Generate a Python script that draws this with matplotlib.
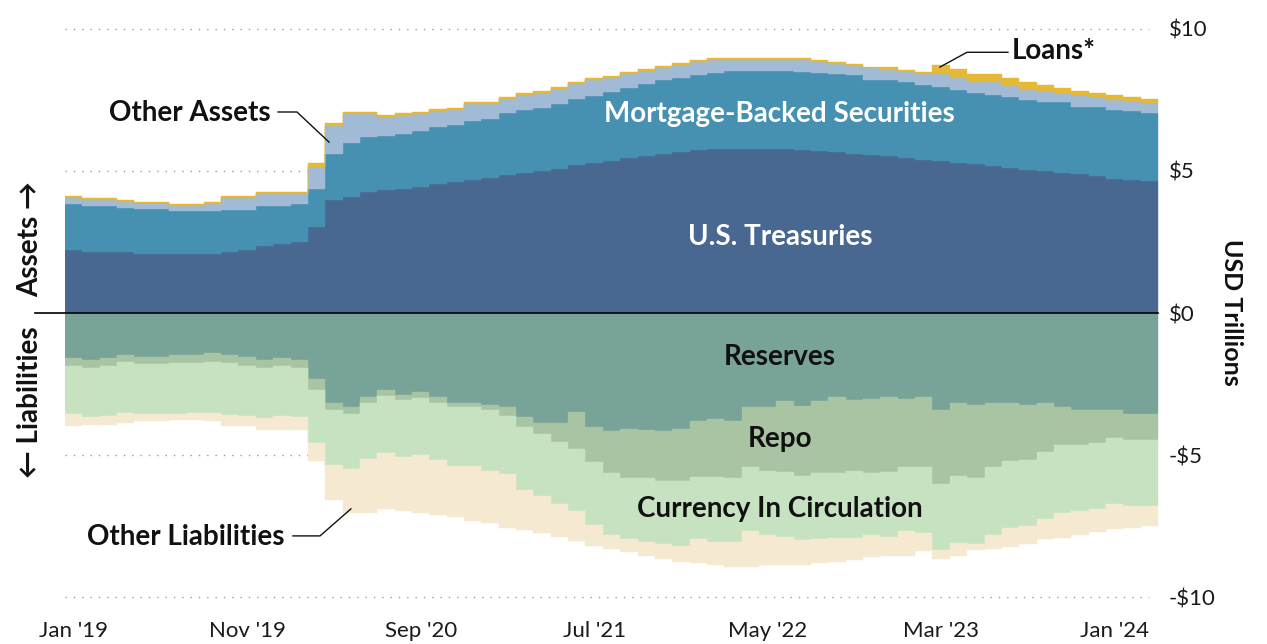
import numpy as np
import matplotlib
matplotlib.use("Agg")
import matplotlib.pyplot as plt

plt.rcParams['font.family'] = ['Lato', 'DejaVu Sans']

# monthly values, Jan 2019 .. Mar 2024, USD trillions
tick_pos = [0, 10, 20, 30, 40, 50, 60]
tick_labels = ["Jan '19", "Nov '19", "Sep '20", "Jul '21", "May '22", "Mar '23", "Jan '24"]

treasuries = [2.23, 2.16, 2.16, 2.16, 2.09, 2.09, 2.09, 2.09, 2.09, 2.16,
              2.23, 2.35, 2.42, 2.49, 3.01, 3.99, 4.09, 4.24, 4.32, 4.37,
              4.43, 4.53, 4.61, 4.67, 4.76, 4.87, 4.92, 4.99, 5.08, 5.20,
              5.27, 5.34, 5.45, 5.52, 5.60, 5.66, 5.72, 5.78, 5.78, 5.78,
              5.78, 5.78, 5.74, 5.70, 5.66, 5.60, 5.54, 5.52, 5.46, 5.39,
              5.34, 5.29, 5.23, 5.17, 5.10, 5.04, 4.98, 4.94, 4.88, 4.82,
              4.73, 4.69, 4.63]
mbs = [1.59, 1.62, 1.62, 1.55, 1.57, 1.57, 1.50, 1.50, 1.50, 1.48,
       1.41, 1.40, 1.33, 1.33, 1.35, 1.61, 1.89, 1.95, 1.91, 1.93,
       1.97, 2.01, 2.01, 2.07, 2.05, 2.16, 2.23, 2.23, 2.28, 2.33,
       2.38, 2.45, 2.47, 2.54, 2.58, 2.61, 2.65, 2.66, 2.72, 2.72,
       2.72, 2.72, 2.73, 2.74, 2.75, 2.76, 2.66, 2.68, 2.66, 2.63,
       2.60, 2.57, 2.51, 2.50, 2.49, 2.46, 2.44, 2.48, 2.38, 2.42,
       2.42, 2.40, 2.40]
other_assets = [0.24, 0.21, 0.21, 0.21, 0.20, 0.20, 0.19, 0.19, 0.26, 0.42,
                0.42, 0.43, 0.43, 0.36, 0.77, 0.97, 1.03, 0.82, 0.66, 0.62,
                0.61, 0.55, 0.53, 0.61, 0.54, 0.51, 0.53, 0.51, 0.51, 0.53,
                0.54, 0.48, 0.47, 0.45, 0.45, 0.44, 0.46, 0.47, 0.41, 0.41,
                0.41, 0.41, 0.44, 0.40, 0.36, 0.34, 0.40, 0.35, 0.34, 0.39,
                0.47, 0.41, 0.38, 0.45, 0.41, 0.36, 0.40, 0.33, 0.41, 0.35,
                0.35, 0.35, 0.37]
loans = [0.07, 0.05, 0.05, 0.06, 0.05, 0.05, 0.06, 0.06, 0.06, 0.07,
         0.07, 0.06, 0.06, 0.06, 0.13, 0.13, 0.07, 0.07, 0.09, 0.11,
         0.07, 0.07, 0.07, 0.07, 0.07, 0.07, 0.07, 0.07, 0.07, 0.07,
         0.07, 0.07, 0.07, 0.07, 0.07, 0.07, 0.07, 0.07, 0.07, 0.07,
         0.07, 0.07, 0.06, 0.06, 0.07, 0.06, 0.05, 0.10, 0.07, 0.05,
         0.31, 0.31, 0.27, 0.27, 0.26, 0.27, 0.19, 0.18, 0.15, 0.15,
         0.17, 0.15, 0.13]

reserves = [1.59, 1.65, 1.59, 1.47, 1.53, 1.53, 1.47, 1.47, 1.41, 1.47,
            1.53, 1.65, 1.59, 1.65, 2.33, 3.17, 3.29, 2.96, 2.70, 2.88,
            2.77, 2.96, 3.15, 3.17, 3.23, 3.32, 3.66, 3.87, 3.87, 3.48,
            4.01, 4.16, 4.08, 4.13, 4.16, 4.08, 3.79, 3.73, 3.79, 3.32,
            3.29, 3.09, 3.27, 3.11, 2.97, 3.05, 3.02, 2.97, 3.02, 2.97,
            3.40, 3.17, 3.23, 3.17, 3.17, 3.23, 3.17, 3.29, 3.40, 3.40,
            3.40, 3.54, 3.54]
repo = [0.27, 0.27, 0.27, 0.27, 0.26, 0.26, 0.30, 0.30, 0.30, 0.30,
        0.33, 0.27, 0.27, 0.27, 0.37, 0.23, 0.25, 0.21, 0.21, 0.18,
        0.21, 0.19, 0.17, 0.15, 0.17, 0.29, 0.35, 0.38, 0.65, 1.29,
        1.23, 1.46, 1.72, 1.67, 1.76, 1.84, 1.99, 2.05, 2.01, 2.11,
        2.28, 2.51, 2.46, 2.51, 2.65, 2.52, 2.60, 2.63, 2.41, 2.46,
        2.60, 2.57, 2.57, 2.26, 2.05, 1.93, 1.73, 1.34, 1.23, 1.17,
        1.00, 0.92, 0.92]
currency = [1.68, 1.75, 1.78, 1.76, 1.77, 1.77, 1.79, 1.73, 1.79, 1.82,
            1.75, 1.76, 1.78, 1.75, 1.87, 1.96, 1.95, 1.96, 2.01, 2.00,
            2.00, 2.01, 2.07, 2.07, 2.17, 2.05, 2.20, 2.20, 2.19, 2.20,
            2.20, 2.20, 2.16, 2.26, 2.22, 2.28, 2.18, 2.28, 2.26, 2.25,
            2.25, 2.28, 2.24, 2.34, 2.29, 2.34, 2.20, 2.28, 2.24, 2.30,
            2.34, 2.34, 2.34, 2.39, 2.34, 2.34, 2.34, 2.42, 2.34, 2.34,
            2.31, 2.33, 2.33]
other_liabilities = [0.45, 0.26, 0.29, 0.37, 0.25, 0.25, 0.19, 0.25, 0.31, 0.40,
                     0.38, 0.43, 0.47, 0.44, 0.65, 1.23, 1.54, 1.90, 1.99, 1.91,
                     2.05, 1.95, 1.78, 1.91, 1.81, 1.91, 1.43, 1.30, 1.17, 1.05,
                     0.76, 0.47, 0.45, 0.49, 0.50, 0.55, 0.85, 0.82, 0.86, 1.24,
                     1.06, 1.00, 0.89, 0.82, 0.85, 0.76, 0.75, 0.65, 0.86, 0.64,
                     0.30, 0.45, 0.20, 0.47, 0.66, 0.64, 0.72, 0.86, 0.84, 0.80,
                     0.90, 0.77, 0.71]

n = len(treasuries)
edges = np.arange(n + 1) - 0.5


def stair(a):
    return np.append(a, a[-1])


fig = plt.figure(figsize=(12.67, 6.44), dpi=100)
ax = fig.add_axes([65 / 1267, 41 / 644, 1093 / 1267, 580 / 644])

# dotted grid under the areas
for g in [10, 5, -5, -10]:
    ax.plot([-0.5, 62.0], [g, g], color='#9a9a9a', lw=1.0,
            linestyle=(0, (1, 5)), zorder=0)

assets = [(treasuries, '#486791'), (mbs, '#4690b2'),
          (other_assets, '#a1bad5'), (loans, '#e5b935')]
base = np.zeros(n)
for vals, col in assets:
    top = base + np.array(vals)
    ax.fill_between(edges, stair(base), stair(top), step='post',
                    facecolor=col, edgecolor=col, lw=0.3, zorder=2)
    base = top

liabs = [(reserves, '#78a398'), (repo, '#a8c4a3'),
         (currency, '#c7e2c0'), (other_liabilities, '#f5e9d2')]
base = np.zeros(n)
for vals, col in liabs:
    bot = base - np.array(vals)
    ax.fill_between(edges, stair(bot), stair(base), step='post',
                    facecolor=col, edgecolor=col, lw=0.3, zorder=2)
    base = bot

# zero line sticks out to the left
ax.plot([-2.25, 62.5], [0, 0], color='black', lw=1.2, zorder=4, clip_on=False)

ax.set_xlim(-0.5, 62.5)
ax.set_ylim(-10.2, 10.2)
for s in ax.spines.values():
    s.set_visible(False)

ax.set_xticks(tick_pos)
ax.set_xticklabels(tick_labels)
ax.yaxis.tick_right()
ax.set_yticks([-10, -5, 0, 5, 10])
ax.set_yticklabels(['-\\$10', '-\\$5', '\\$0', '\\$5', '\\$10'])
ax.tick_params(axis='x', length=0, pad=13, labelsize=16, colors='#1a1a1a')
ax.tick_params(axis='y', length=0, pad=8, labelsize=16, colors='#1a1a1a')

# inside labels
ax.text(40.7, 7.0, 'Mortgage-Backed Securities', color='white', fontsize=20,
        fontweight='bold', ha='center', va='center', zorder=5)
ax.text(40.7, 2.68, 'U.S. Treasuries', color='white', fontsize=20,
        fontweight='bold', ha='center', va='center', zorder=5)
ax.text(40.7, -1.54, 'Reserves', color='#111111', fontsize=20,
        fontweight='bold', ha='center', va='center', zorder=5)
ax.text(40.7, -4.42, 'Repo', color='#111111', fontsize=20,
        fontweight='bold', ha='center', va='center', zorder=5)
ax.text(40.7, -6.91, 'Currency In Circulation', color='#111111', fontsize=20,
        fontweight='bold', ha='center', va='center', zorder=5)

# callouts
ax.text(11.37, 7.03, 'Other Assets', fontsize=20, fontweight='bold',
        ha='right', va='center', color='#111111', zorder=5)
ax.plot([11.78, 12.87, 14.72], [7.07, 7.07, 6.01], color='#111111', lw=1.0, zorder=5)

ax.text(54.08, 9.2, 'Loans*', fontsize=20, fontweight='bold',
        ha='left', va='center', color='#111111', zorder=5)
ax.plot([49.93, 51.49, 53.85], [8.65, 9.17, 9.17], color='#111111', lw=1.0,
        zorder=5, clip_on=False)

ax.text(12.18, -7.88, 'Other Liabilities', fontsize=20, fontweight='bold',
        ha='right', va='center', color='#111111', zorder=5)
ax.plot([15.98, 14.20, 12.64], [-6.89, -7.84, -7.84], color='#111111', lw=1.0, zorder=5)

fig.text(30 / 1267, 1 - 239 / 644, 'Assets \u2192', rotation=90, fontsize=20,
         fontweight='bold', ha='center', va='center', color='#111111')
fig.text(30 / 1267, 1 - 402 / 644, '\u2190 Liabilities', rotation=90, fontsize=20,
         fontweight='bold', ha='center', va='center', color='#111111')
fig.text(1231 / 1267, 1 - 312 / 644, 'USD Trillions', rotation=270, fontsize=18,
         fontweight='bold', ha='center', va='center', color='#111111')

fig.savefig('out.png', dpi=100)
